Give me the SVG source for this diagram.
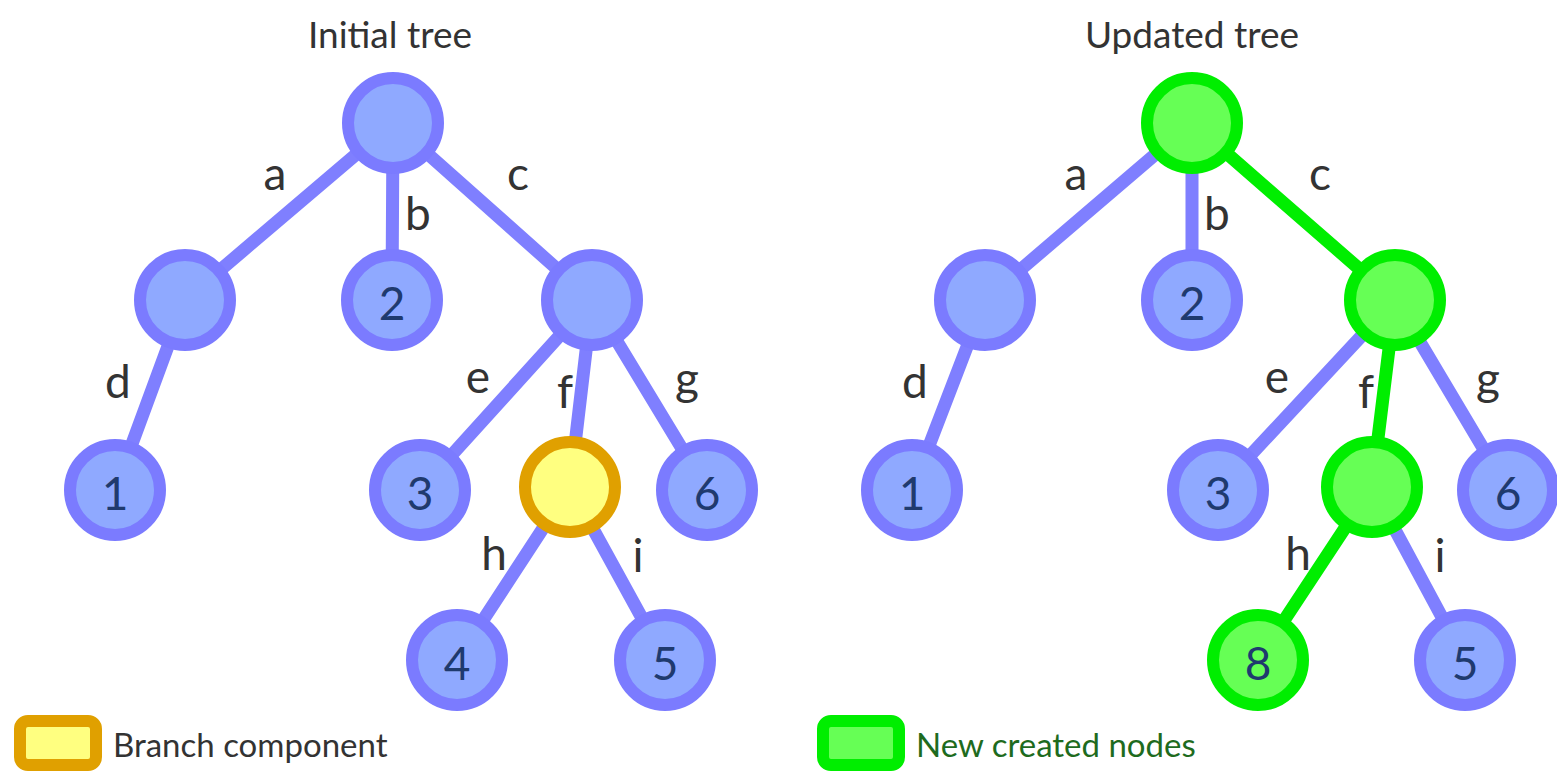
<svg xmlns="http://www.w3.org/2000/svg" width="1557" height="778" viewBox="0 0 1557 778">
<style>
.e{stroke:#7f7fff;stroke-width:13;stroke-linecap:round}
.eg{stroke:#00ee00;stroke-width:13;stroke-linecap:round}
.n circle{fill:#8fa9ff;stroke:#7b7bff;stroke-width:12}
.y circle{fill:#ffff80;stroke:#e0a000;stroke-width:12}
.g circle{fill:#66ff55;stroke:#00ee00;stroke-width:12}
.num{font-family:Lato,"Open Sans",sans-serif;font-size:46px;fill:#1f3a6e;text-anchor:middle;dominant-baseline:central}
.lab{font-family:Lato,"Open Sans",sans-serif;font-size:46px;fill:#333;text-anchor:middle}
.ttl{font-family:Lato,"Open Sans",sans-serif;font-size:37px;fill:#333;text-anchor:middle}
.leg{font-family:Lato,"Open Sans",sans-serif;font-size:33px}
</style>
<rect width="1557" height="778" fill="#fff"/>
<text class="ttl" x="390" y="48">Initial tree</text>
<text class="ttl" x="1192" y="48">Updated tree</text>
<g id="connectors">
<line class="e" x1="393" y1="123" x2="185" y2="300"/>
<line class="e" x1="393" y1="123" x2="392" y2="300"/>
<line class="e" x1="393" y1="123" x2="592" y2="300"/>
<line class="e" x1="185" y1="300" x2="115" y2="490"/>
<line class="e" x1="592" y1="300" x2="420" y2="490"/>
<line class="e" x1="592" y1="300" x2="570" y2="487"/>
<line class="e" x1="592" y1="300" x2="707" y2="490"/>
<line class="e" x1="570" y1="487" x2="457" y2="660"/>
<line class="e" x1="570" y1="487" x2="665" y2="660"/>
<line class="e" x1="1192" y1="123" x2="985" y2="300"/>
<line class="e" x1="1192" y1="123" x2="1192" y2="300"/>
<line class="eg" x1="1192" y1="123" x2="1395" y2="300"/>
<line class="e" x1="985" y1="300" x2="912" y2="490"/>
<line class="e" x1="1395" y1="300" x2="1218" y2="490"/>
<line class="eg" x1="1395" y1="300" x2="1372" y2="487"/>
<line class="e" x1="1395" y1="300" x2="1508" y2="490"/>
<line class="eg" x1="1372" y1="487" x2="1258" y2="660"/>
<line class="e" x1="1372" y1="487" x2="1465" y2="660"/>
<g>
<text class="lab" x="275" y="190">a</text>
<text class="lab" x="418" y="230">b</text>
<text class="lab" x="518" y="190">c</text>
<text class="lab" x="118" y="398">d</text>
<text class="lab" x="478" y="393">e</text>
<text class="lab" x="565" y="408">f</text>
<text class="lab" x="687" y="395">g</text>
<text class="lab" x="494" y="570">h</text>
<text class="lab" x="638" y="572">i</text>
<text class="lab" x="1076" y="190">a</text>
<text class="lab" x="1217" y="230">b</text>
<text class="lab" x="1320" y="190">c</text>
<text class="lab" x="915" y="398">d</text>
<text class="lab" x="1277" y="393">e</text>
<text class="lab" x="1366" y="408">f</text>
<text class="lab" x="1488" y="395">g</text>
<text class="lab" x="1298" y="570">h</text>
<text class="lab" x="1440" y="572">i</text>
</g>
</g>
<g id="L-root" class="n"><circle cx="393" cy="123" r="45"/></g>
<g id="L-a" class="n"><circle cx="185" cy="300" r="45"/></g>
<g id="L-2" class="n"><circle cx="392" cy="300" r="45"/><text class="num" x="392" y="302">2</text></g>
<g id="L-c" class="n"><circle cx="592" cy="300" r="45"/></g>
<g id="L-1" class="n"><circle cx="115" cy="490" r="45"/><text class="num" x="115" y="492">1</text></g>
<g id="L-3" class="n"><circle cx="420" cy="490" r="45"/><text class="num" x="420" y="492">3</text></g>
<g id="L-f" class="y"><circle cx="570" cy="487" r="45"/></g>
<g id="L-6" class="n"><circle cx="707" cy="490" r="45"/><text class="num" x="707" y="492">6</text></g>
<g id="L-4" class="n"><circle cx="457" cy="660" r="45"/><text class="num" x="457" y="662">4</text></g>
<g id="L-5" class="n"><circle cx="665" cy="660" r="45"/><text class="num" x="665" y="662">5</text></g>
<g id="R-root" class="g"><circle cx="1192" cy="123" r="45"/></g>
<g id="R-a" class="n"><circle cx="985" cy="300" r="45"/></g>
<g id="R-2" class="n"><circle cx="1192" cy="300" r="45"/><text class="num" x="1192" y="302">2</text></g>
<g id="R-c" class="g"><circle cx="1395" cy="300" r="45"/></g>
<g id="R-1" class="n"><circle cx="912" cy="490" r="45"/><text class="num" x="912" y="492">1</text></g>
<g id="R-3" class="n"><circle cx="1218" cy="490" r="45"/><text class="num" x="1218" y="492">3</text></g>
<g id="R-f" class="g"><circle cx="1372" cy="487" r="45"/></g>
<g id="R-6" class="n"><circle cx="1508" cy="490" r="45"/><text class="num" x="1508" y="492">6</text></g>
<g id="R-8" class="g"><circle cx="1258" cy="660" r="45"/><text class="num" x="1258" y="662">8</text></g>
<g id="R-5" class="n"><circle cx="1465" cy="660" r="45"/><text class="num" x="1465" y="662">5</text></g>
<g id="legend-branch">
<rect x="20" y="721" width="76" height="44" rx="8" fill="#ffff80" stroke="#e0a000" stroke-width="12"/>
<text class="leg" x="113" y="757" fill="#333">Branch component</text>
</g>
<g id="legend-new">
<rect x="823" y="721" width="76" height="44" rx="8" fill="#66ff55" stroke="#00ee00" stroke-width="12"/>
<text class="leg" x="916" y="757" fill="#1e6b1e">New created nodes</text>
</g>
</svg>
